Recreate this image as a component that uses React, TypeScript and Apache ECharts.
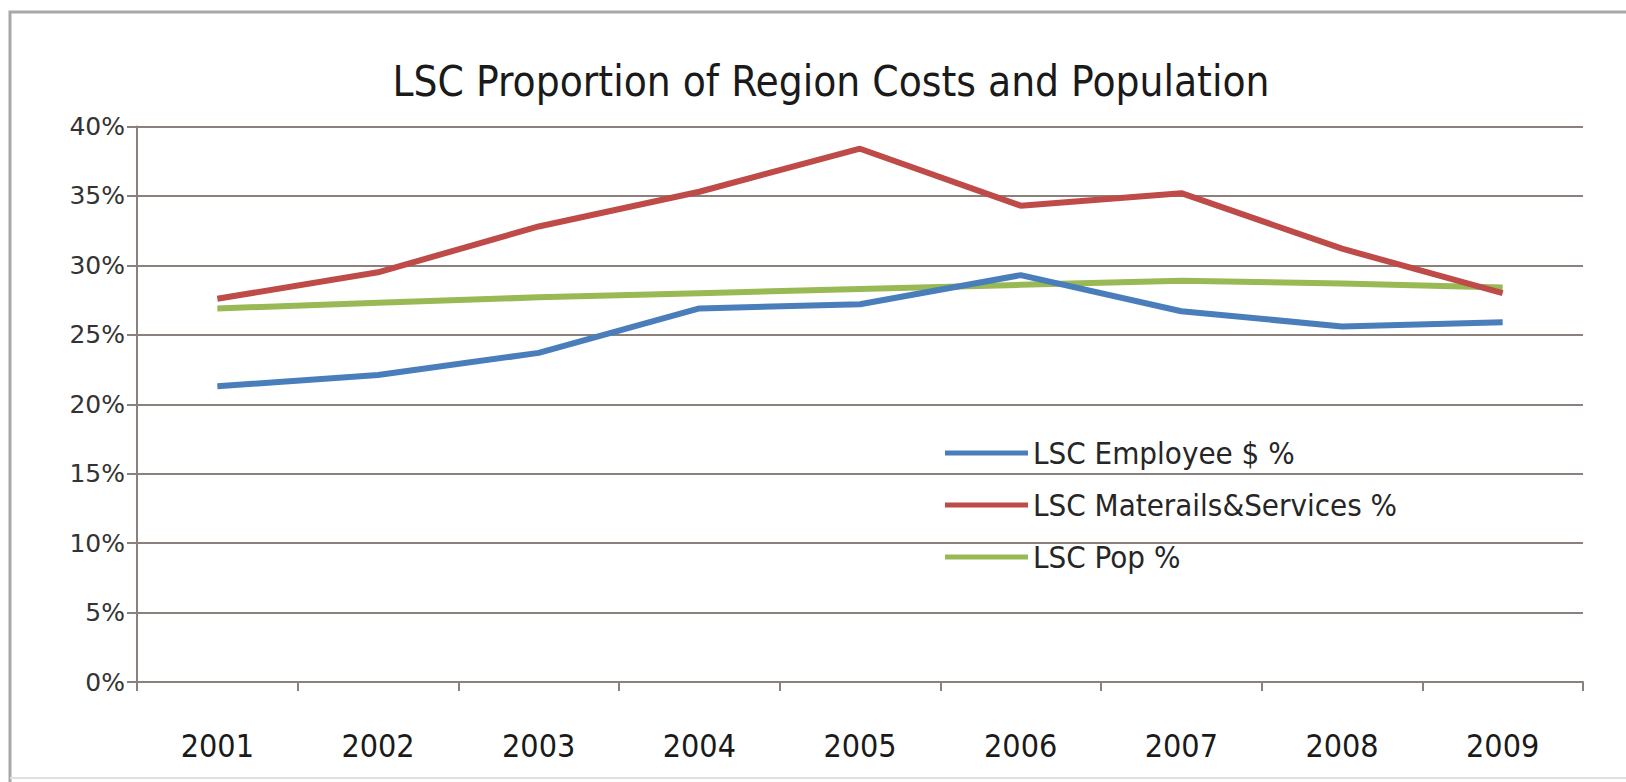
import React, { useEffect, useRef } from "react";
import * as echarts from "echarts";

const years = ["2001", "2002", "2003", "2004", "2005", "2006", "2007", "2008", "2009"];
const employee = [21.3, 22.1, 23.7, 26.9, 27.2, 29.3, 26.7, 25.6, 25.9];
const materials = [27.6, 29.5, 32.8, 35.3, 38.4, 34.3, 35.2, 31.2, 28.0];
const pop = [26.9, 27.3, 27.7, 28.0, 28.3, 28.6, 28.9, 28.7, 28.4];
const seriesNames = ["LSC Employee $ %", "LSC Materails&Services %", "LSC Pop %"];
const colors = ["#4a7ebb", "#be4b48", "#98b954"];

export default function App() {
  const ref = useRef<HTMLDivElement>(null);
  useEffect(() => {
    const chart = echarts.init(ref.current!, null, { renderer: "svg" });
    const values = [employee, materials, pop];
    chart.setOption({
      animation: false,
      backgroundColor: "#ffffff",
      title: {
        text: "LSC Proportion of Region Costs and Population",
        left: 826,
        top: 55,
        textAlign: "center",
        textStyle: { fontFamily: "DejaVu Sans Condensed", fontSize: 42, fontWeight: "normal", color: "#1a1a1a" },
      },
      graphic: [
        {
          type: "polyline",
          shape: { points: [[10, 782], [10, 12], [1626, 12]] },
          style: { fill: "none", stroke: "#a8a8a8", lineWidth: 3 },
          silent: true,
        },
        {
          type: "line",
          shape: { x1: 10, y1: 778, x2: 1626, y2: 778 },
          style: { stroke: "#e0e0e0", lineWidth: 2 },
          silent: true,
        },
      ],
      grid: { left: 137, right: 43, top: 126.5, bottom: 100 },
      legend: {
        orient: "vertical",
        left: 940,
        top: 431,
        icon: "rect",
        itemWidth: 83,
        itemHeight: 5,
        itemGap: 18,
        data: seriesNames,
        textStyle: { fontFamily: "DejaVu Sans Condensed", fontSize: 31, color: "#262626", lineHeight: 34 },
      },
      xAxis: {
        type: "category",
        data: years,
        boundaryGap: true,
        axisLine: { lineStyle: { color: "#8a807c", width: 2 } },
        axisTick: { show: true, length: 9, lineStyle: { color: "#8a807c", width: 2 } },
        axisLabel: { fontFamily: "DejaVu Sans Condensed", fontSize: 32, color: "#1a1a1a", margin: 48 },
      },
      yAxis: {
        type: "value",
        min: 0,
        max: 40,
        interval: 5,
        axisLine: { show: true, lineStyle: { color: "#8a807c", width: 2 } },
        axisTick: { show: true, length: 10, lineStyle: { color: "#8a807c", width: 2 } },
        splitLine: { lineStyle: { color: "#8a807c", width: 2 } },
        axisLabel: {
          formatter: (v: number) => v + "%",
          fontFamily: "DejaVu Sans",
          fontSize: 25,
          color: "#333333",
          margin: 12,
        },
      },
      series: seriesNames.map((name, i) => ({
        name,
        type: "line",
        data: values[i],
        symbol: "none",
        lineStyle: { color: colors[i], width: 6 },
        itemStyle: { color: colors[i] },
        z: i === 0 ? 4 : i === 1 ? 3 : 2,
      })),
    });
    return () => chart.dispose();
  }, []);
  return (
    <div
      ref={ref}
      style={{ position: "absolute", left: 0, top: 0, width: 1626, height: 782 }}
    />
  );
}
